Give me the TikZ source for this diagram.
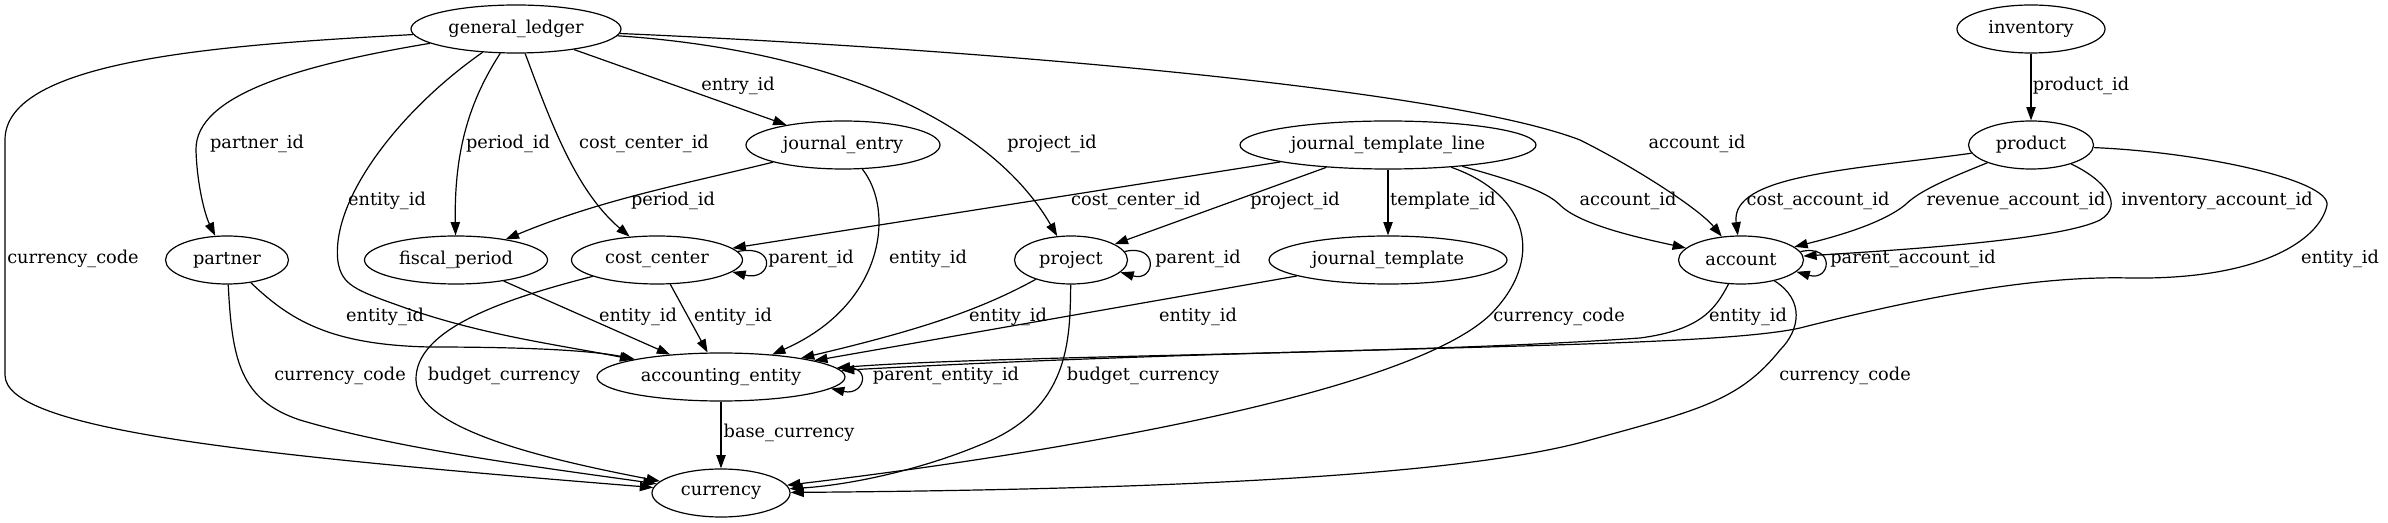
\documentclass[tikz,border=0pt]{standalone}
\usepackage{fontspec}
\newfontfamily\gvfam{DejaVu Serif}
\newcommand\gvf{\gvfam\fontsize{13.3pt}{16pt}\selectfont}
\usetikzlibrary{shapes.geometric,arrows.meta}
\tikzset{
  ent/.style={ellipse, draw, line width=0.9pt, minimum height=36pt, inner sep=0pt, font=\gvf},
  lbl/.style={inner sep=0pt, font=\gvf, text height=0.72em, text depth=0.22em},
  fk/.style={-{Triangle[length=10pt,width=7pt]}, line width=0.9pt},
}
\begin{document}
\begin{tikzpicture}[x=0.75pt,y=-0.75pt]
\useasboundingbox (0,0) rectangle (2388,523);
% nodes
\node[ent, minimum width=157.5pt] (gl) at (516,29) {general\_ledger};
\node[ent, minimum width=111pt] (inv) at (2031,29) {inventory};
\node[ent, minimum width=145.5pt] (je) at (843,145) {journal\_entry};
\node[ent, minimum width=222pt] (jtl) at (1388,145) {journal\_template\_line};
\node[ent, minimum width=93.75pt] (prod) at (2031,145) {product};
\node[ent, minimum width=92.25pt] (partner) at (227,260) {partner};
\node[ent, minimum width=137.25pt] (fp) at (456,260) {fiscal\_period};
\node[ent, minimum width=128.25pt] (cc) at (657,260) {cost\_center};
\node[ent, minimum width=84.75pt] (proj) at (1071,260) {project};
\node[ent, minimum width=178.5pt] (jt) at (1388,260) {journal\_template};
\node[ent, minimum width=93.75pt] (acc) at (1741,260) {account};
\node[ent, minimum width=186pt] (ae) at (721,377) {accounting\_entity};
\node[ent, minimum width=103.5pt] (cur) at (721,493) {currency};

% general_ledger edges
\draw[fk] (gl) .. controls (220,45) and (5,60) .. (5,140) -- (5,375) .. controls (5,430) and (250,455) .. (cur);
\draw[fk] (gl) .. controls (300,65) and (195,95) .. (196,150) .. controls (197,185) and (205,215) .. (partner);
\draw[fk] (gl) .. controls (400,110) and (330,200) .. (338,262) .. controls (342,285) and (355,290) .. (400,306) .. controls (480,335) and (560,345) .. (ae);
\draw[fk] (gl) .. controls (470,100) and (454,150) .. (fp);
\draw[fk] (gl) .. controls (550,120) and (575,190) .. (cc);
\draw[fk] (gl) -- (je);
\draw[fk] (gl) .. controls (830,50) and (990,120) .. (proj);
\draw[fk] (gl) .. controls (1000,50) and (1450,90) .. (1580,140) .. controls (1640,170) and (1700,210) .. (acc);

% journal_entry
\draw[fk] (je) .. controls (680,185) and (600,200) .. (fp);
\draw[fk] (je) .. controls (895,210) and (885,305) .. (ae);

% journal_template_line
\draw[fk] (jtl) -- (cc);
\draw[fk] (jtl) -- (proj);
\draw[fk] (jtl) -- (jt);
\draw[fk] (jtl) .. controls (1530,195) and (1545,260) .. (1490,315) .. controls (1400,400) and (1000,460) .. (cur);
\draw[fk] (jtl) .. controls (1510,180) and (1545,190) .. (1560,205) .. controls (1580,225) and (1640,238) .. (acc);

% product / inventory
\draw[fk] (inv) -- (prod);
\draw[fk] (prod) .. controls (1850,170) and (1730,175) .. (acc);
\draw[fk] (prod) .. controls (1950,178) and (1920,190) .. (1905,205) .. controls (1880,225) and (1830,238) .. (acc);
\draw[fk] (prod) .. controls (2105,180) and (2125,205) .. (2100,220) .. controls (2060,240) and (1900,250) .. (acc);
\draw[fk] (prod) .. controls (2200,152) and (2330,180) .. (2327,205) .. controls (2320,240) and (2260,280) .. (2130,278) .. controls (2050,276) and (1950,290) .. (1800,328) .. controls (1700,350) and (1300,345) .. (ae);

% account
\draw[fk] (acc.8) .. controls +(35,-8) and +(35,10) .. (acc.-12);
\draw[fk] (acc) .. controls (1715,310) and (1700,330) .. (1640,338) .. controls (1400,355) and (1000,355) .. (ae);
\draw[fk] (acc) .. controls (1805,300) and (1800,330) .. (1780,350) .. controls (1740,400) and (1700,410) .. (1590,440) .. controls (1450,480) and (1100,490) .. (cur);

% partner
\draw[fk] (partner) .. controls (290,320) and (330,345) .. (430,347) .. controls (520,347) and (590,350) .. (ae);
\draw[fk] (partner) .. controls (232,360) and (240,400) .. (300,420) .. controls (400,450) and (560,470) .. (cur);

% fiscal_period, cost_center
\draw[fk] (fp) -- (ae);
\draw[fk] (cc) -- (ae);
\draw[fk] (cc) .. controls (500,300) and (415,330) .. (416,380) .. controls (417,430) and (550,460) .. (cur);
\draw[fk] (cc.6) .. controls +(40,-8) and +(40,10) .. (cc.-9);

% project, journal_template
\draw[fk] (proj) .. controls (980,310) and (920,330) .. (ae);
\draw[fk] (proj) .. controls (1070,340) and (1070,410) .. (980,445) .. controls (920,470) and (850,485) .. (cur);
\draw[fk] (proj.9) .. controls +(35,-8) and +(35,10) .. (proj.-14);
\draw[fk] (jt) -- (ae);

% accounting_entity
\draw[fk] (ae.4) .. controls +(35,-8) and +(35,8) .. (ae.-6);
\draw[fk] (ae) -- (cur);

% labels
\node[lbl] (l1) at (73,260) {currency\_code};
\node[lbl] (l2) at (257,145) {partner\_id};
\node[lbl] (l3) at (387,202) {entity\_id};
\node[lbl] (l4) at (508,145) {period\_id};
\node[lbl] (l5) at (644,145) {cost\_center\_id};
\node[lbl] (l6) at (738,87) {entry\_id};
\node[lbl] (l7) at (1052,145) {project\_id};
\node[lbl] (l8) at (1697,145) {account\_id};
\node[lbl] (l9) at (673,202) {period\_id};
\node[lbl] (l10) at (928,260) {entity\_id};
\node[lbl] (l11) at (1136,202) {cost\_center\_id};
\node[lbl] (l12) at (1295,202) {project\_id};
\node[lbl] (l13) at (1443,202) {template\_id};
\node[lbl] (l14) at (1559,318) {currency\_code};
\node[lbl] (l15) at (1628,202) {account\_id};
\node[lbl] (l16) at (1818,202) {cost\_account\_id};
\node[lbl] (l17) at (2016,202) {revenue\_account\_id};
\node[lbl] (l18) at (2217,202) {inventory\_account\_id};
\node[lbl] (l19) at (2340,260) {entity\_id};
\node[lbl] (l20) at (2081,87) {product\_id};
\node[lbl] (l21) at (1913,260) {parent\_account\_id};
\node[lbl] (l22) at (1748,318) {entity\_id};
\node[lbl] (l23) at (1845,377) {currency\_code};
\node[lbl] (l24) at (385,318) {entity\_id};
\node[lbl] (l25) at (340,377) {currency\_code};
\node[lbl] (l26) at (638,318) {entity\_id};
\node[lbl] (l27) at (733,318) {entity\_id};
\node[lbl] (l28) at (504,377) {budget\_currency};
\node[lbl] (l29) at (811,260) {parent\_id};
\node[lbl] (l30) at (1008,318) {entity\_id};
\node[lbl] (l31) at (1143,377) {budget\_currency};
\node[lbl] (l32) at (1198,260) {parent\_id};
\node[lbl] (l33) at (1198,318) {entity\_id};
\node[lbl] (l34) at (946,377) {parent\_entity\_id};
\node[lbl] (l35) at (789,434) {base\_currency};
\end{tikzpicture}
\end{document}
